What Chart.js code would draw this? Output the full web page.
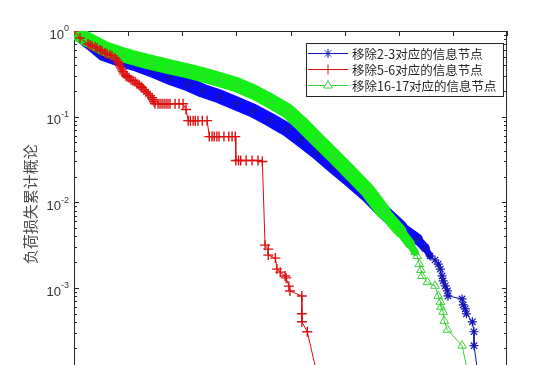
<!DOCTYPE html>
<html>
<head>
<meta charset="utf-8">
<script src="https://cdn.jsdelivr.net/npm/chart.js@4/dist/chart.umd.min.js"></script>
<style>
    html, body { margin: 0; padding: 0; background: #fff; overflow: hidden; }
    canvas { display: block; }
</style>
</head>
<body>
<canvas id="lossgraph" width="560" height="380"></canvas>
<script>
const seriesNames = [
    "移除2-3对应的信息节点",
    "移除5-6对应的信息节点",
    "移除16-17对应的信息节点",
];
const yAxisTitle = "负荷损失累计概论";

const xTicks = [0, 100, 200, 300, 400, 500, 600, 700, 800];
const yMajorTicks = [1, 0.1, 0.01, 0.001, 0.0001];
const yTickExponents = ["0", "-1", "-2", "-3", ""];

// 移除2-3
const blueX = [0, 20, 39, 54, 85, 117, 146, 177, 209, 238, 270, 301, 331, 362, 394, 418, 449, 479, 510, 542,
    571, 603, 634, 649, 658, 667, 673, 677, 680, 682, 686, 690, 691, 717, 719, 723, 725, 736, 739, 739, 749];
const blueY = [1, 0.807, 0.652, 0.540, 0.460, 0.402, 0.343, 0.284, 0.242, 0.2006, 0.1709, 0.1416, 0.1174,
    0.0923, 0.0706, 0.0540, 0.0382, 0.0262, 0.0180, 0.01206, 0.00786, 0.00512, 0.00371, 0.00292, 0.00236,
    0.00212, 0.00190, 0.00166, 0.00138, 0.00121, 0.00106, 0.000923, 0.000807, 0.000745, 0.000634, 0.000570,
    0.000499, 0.000402, 0.000308, 0.000212, 0.0000765];

// 移除5-6
const redX = [0, 11.1, 25.9, 29.6, 33.3, 38.8, 42.5, 48.1, 51.8, 57.3, 61.0, 66.5, 70.2,
    75.8, 79.5, 81.3, 83.2, 85.0, 86.9, 88.7, 90.6, 92.4, 96.1, 98.0, 101.7, 105.4, 109.1, 112.8, 116.5,
    120.1, 123.8, 125.7, 129.4, 133.1, 136.8, 140.5, 144.2, 146.0, 147.9, 149.7, 155.3, 159.0, 162.7, 166.4,
    170.1, 173.7, 177.4, 186.7, 194.1, 201.5, 207, 211, 215, 220, 224, 229, 237, 246, 250, 255, 259, 264,
    268, 277, 286, 292, 298, 299, 304, 308, 318, 329, 340, 348, 353, 359, 359, 372, 375, 381, 390, 392, 397,
    399, 421, 421, 421, 431, 453];
const redY = [1, 0.829, 0.706, 0.688, 0.669, 0.652, 0.634, 0.601, 0.585, 0.555, 0.540,
    0.526, 0.512, 0.485, 0.460, 0.436, 0.413, 0.392, 0.371, 0.352, 0.334, 0.316, 0.300, 0.292, 0.284, 0.269,
    0.262, 0.255, 0.242, 0.2355, 0.2233, 0.2174, 0.206, 0.1953, 0.185, 0.1754, 0.1663, 0.1576, 0.1494, 0.1416,
    0.1416, 0.1416, 0.1416, 0.1416, 0.1416, 0.1416, 0.1416, 0.1416, 0.1416, 0.1416, 0.121, 0.0898, 0.0898,
    0.0898, 0.0898, 0.0898, 0.0898, 0.0898, 0.0585, 0.0585, 0.0585, 0.0585, 0.0585, 0.0585, 0.0585, 0.0585,
    0.0585, 0.0308, 0.0308, 0.0308, 0.0308, 0.0308, 0.0308, 0.0300, 0.00316, 0.00284, 0.00242, 0.00223,
    0.00166, 0.00153, 0.00138, 0.00131, 0.00105, 0.000923, 0.000807, 0.000499, 0.000403, 0.000308, 0.0000765];

// 移除16-17
const greenX = [0, 20, 54, 85, 117, 146, 177, 209, 238, 270, 301, 331, 362, 394, 418, 449, 479, 510, 542, 571,
    603, 621, 630, 634, 638, 641, 643, 653, 667, 673, 677, 678, 682, 684, 690, 717, 732];
const greenY = [1, 0.829, 0.634, 0.540, 0.4725, 0.4245, 0.3815, 0.343, 0.308, 0.2693, 0.2355, 0.1953, 0.1535,
    0.1174, 0.0851, 0.0540, 0.0352, 0.0223, 0.01379, 0.00786, 0.0046, 0.00325, 0.00262, 0.00236, 0.00190,
    0.00162, 0.00138, 0.00117, 0.00106, 0.000807, 0.000688, 0.000601, 0.000526, 0.000413, 0.000325,
    0.000212, 0.0000765];

// dense start of the curves: markers merge into a wide band that thins out at its end
const blueBand = { end: 24, width: 14 };
const greenBand = { end: 22, width: 15 };

const toPoints = (xs, ys) => xs.map((x, i) => ({ x: x, y: ys[i] }));

const bandWidth = (band) => (c) => {
    const i = c.p1DataIndex;
    if (i <= band.end - 3) return band.width;
    if (i <= band.end) return band.width - (i - band.end + 3) * 2.5;
    return 1;
};

const minorTicks = [];
for (let e = -4; e < 0; e++) {
    for (let k = 1; k < 10; k++) {
        minorTicks.push(k * Math.pow(10, e));
    }
}
minorTicks.push(1);

const majorIndex = (v) => yMajorTicks.findIndex((m) => Math.abs(v / m - 1) < 1e-6);

const framePlugin = {
    id: "frame",
    beforeDatasetsDraw(chart) {
        const { ctx, chartArea: a, scales } = chart;
        ctx.save();
        ctx.strokeStyle = "#262626";
        ctx.lineWidth = 1;
        ctx.strokeRect(a.left + 0.5, a.top + 0.5, a.right - a.left - 1, a.bottom - a.top);
        ctx.beginPath();
        scales.x.ticks.forEach((t) => {
            const px = Math.round(scales.x.getPixelForValue(t.value)) + 0.5;
            ctx.moveTo(px, a.top);
            ctx.lineTo(px, a.top + 5);
            ctx.moveTo(px, a.bottom);
            ctx.lineTo(px, a.bottom - 5);
        });
        scales.y.ticks.forEach((t) => {
            const py = Math.round(scales.y.getPixelForValue(t.value)) + 0.5;
            const len = majorIndex(t.value) >= 0 ? 5 : 3;
            ctx.moveTo(a.left, py);
            ctx.lineTo(a.left + len, py);
            ctx.moveTo(a.right, py);
            ctx.lineTo(a.right - len, py);
        });
        ctx.stroke();

        // tick labels 10^n and the axis title
        ctx.fillStyle = "#333";
        ctx.textBaseline = "middle";
        scales.y.ticks.forEach((t) => {
            const i = majorIndex(t.value);
            if (i < 0 || yTickExponents[i] === "") return;
            const py = scales.y.getPixelForValue(t.value);
            ctx.font = '9px "Liberation Sans", Arial, sans-serif';
            ctx.textAlign = "left";
            const expWidth = ctx.measureText(yTickExponents[i]).width;
            const expX = a.left - 5 - expWidth;
            ctx.fillText(yTickExponents[i], expX, py - 2);
            ctx.font = '13px "Liberation Sans", Arial, sans-serif';
            ctx.textAlign = "right";
            ctx.fillText("10", expX, py + 4);
        });
        ctx.save();
        ctx.translate(a.left - 44, (a.top + a.bottom) / 2 + 2);
        ctx.rotate(-Math.PI / 2);
        ctx.textAlign = "center";
        ctx.fillStyle = "#4a4a4a";
        ctx.font = '15px "Noto Sans CJK SC", sans-serif';
        ctx.fillText(yAxisTitle, 0, 0);
        ctx.restore();
        ctx.restore();
    },
};

const legendOrder = [0, 1, 2];

const legendPlugin = {
    id: "boxLegend",
    afterDraw(chart) {
        const { ctx, chartArea: a } = chart;
        const width = 197;
        const height = 53;
        const left = a.right - 4 - width;
        const top = a.top + 12;
        ctx.save();
        ctx.fillStyle = "#fff";
        ctx.fillRect(left, top, width, height);
        ctx.strokeStyle = "#262626";
        ctx.lineWidth = 1;
        ctx.strokeRect(left + 0.5, top + 0.5, width, height);
        ctx.font = '12.5px "Noto Sans CJK SC"';
        ctx.textBaseline = "middle";
        legendOrder.forEach((di, row) => {
            const ds = chart.data.datasets[di];
            const y = Math.round(top + 10 + row * 16) + 0.5;
            ctx.strokeStyle = ds.pointBorderColor;
            ctx.lineWidth = 1;
            ctx.beginPath();
            ctx.moveTo(left + 2, y);
            ctx.lineTo(left + 42, y);
            ctx.stroke();
            ctx.fillStyle = "#fff";
            Chart.helpers.drawPoint(ctx, {
                pointStyle: ds.pointStyle,
                radius: ds.pointRadius,
                rotation: 0,
                borderWidth: 1,
            }, left + 22, y);
            ctx.fillStyle = "#262626";
            ctx.fillText(seriesNames[di], left + 46, y + 1);
        });
        ctx.restore();
    },
};

const ctx = document.getElementById("lossgraph").getContext("2d");

const chart = new Chart(ctx, {
    type: "line",
    data: {
        datasets: [
            {
                label: seriesNames[0],
                data: toPoints(blueX, blueY),
                order: 2,
                borderColor: "#0a0aff",
                borderWidth: 1,
                segment: {
                    borderWidth: bandWidth(blueBand),
                    borderColor: (c) => (c.p1DataIndex <= blueBand.end ? "#0a0aff" : "#1414b4"),
                },
                borderJoinStyle: "round",
                borderCapStyle: "round",
                pointStyle: "star",
                pointRadius: 4.5,
                pointBorderWidth: 1.2,
                pointBorderColor: "#1414b4",
                pointBackgroundColor: "#1414b4",
            },
            {
                label: seriesNames[1],
                data: toPoints(redX, redY),
                order: 0,
                borderColor: "#d81010",
                borderWidth: 1,
                pointStyle: "cross",
                pointRadius: 5,
                pointBorderWidth: 1.4,
                pointBorderColor: "#dc1010",
                pointBackgroundColor: "#dc1010",
            },
            {
                label: seriesNames[2],
                data: toPoints(greenX, greenY),
                order: 1,
                borderColor: "#14f014",
                borderWidth: 1,
                segment: {
                    borderWidth: bandWidth(greenBand),
                    borderColor: (c) => (c.p1DataIndex <= greenBand.end ? "#14f014" : "#3cd23c"),
                },
                borderJoinStyle: "round",
                borderCapStyle: "round",
                pointStyle: "triangle",
                pointRadius: 5,
                pointBorderWidth: 1,
                pointBorderColor: "#3cd23c",
                pointBackgroundColor: "rgba(255,255,255,0)",
            },
        ],
    },
    options: {
        responsive: false,
        animation: false,
        layout: { padding: { top: 31, right: 53, bottom: 5, left: 0 } },
        plugins: {
            legend: { display: false },
            tooltip: { enabled: false },
        },
        scales: {
            x: {
                type: "linear",
                min: xTicks[0],
                max: xTicks[xTicks.length - 1],
                afterBuildTicks: (s) => { s.ticks = xTicks.map((v) => ({ value: v })); },
                ticks: { display: false },
                grid: { display: false, drawTicks: false },
                border: { display: false },
                afterFit: (s) => { s.height = 0; },
            },
            y: {
                type: "logarithmic",
                min: yMajorTicks[yMajorTicks.length - 1],
                max: yMajorTicks[0],
                afterBuildTicks: (s) => { s.ticks = minorTicks.map((v) => ({ value: v })); },
                ticks: { display: false, autoSkip: false },
                grid: { display: false, drawTicks: false },
                border: { display: false },
                afterFit: (s) => { s.width = 74; },
            },
        },
    },
    plugins: [framePlugin, legendPlugin],
});
</script>
</body>
</html>
